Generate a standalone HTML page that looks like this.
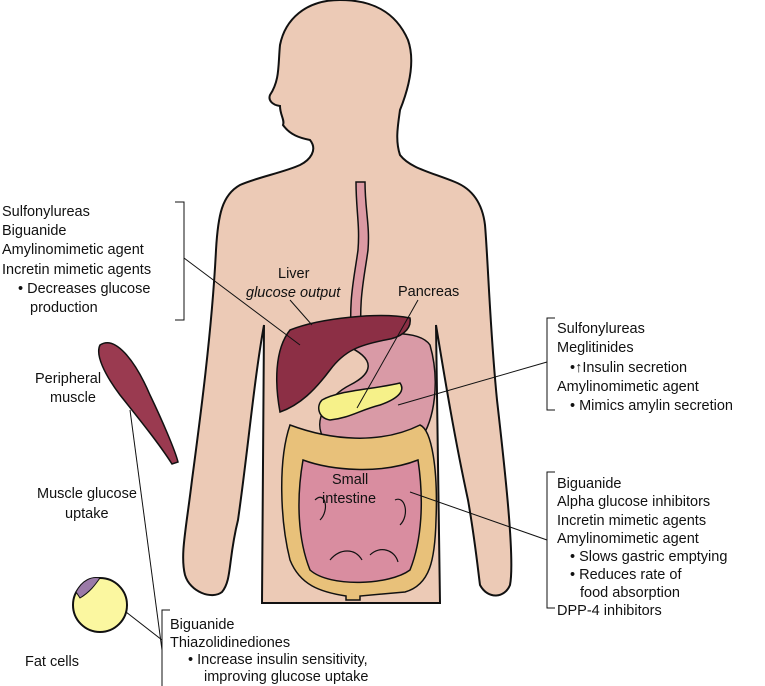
<!DOCTYPE html>
<html><head><meta charset="utf-8"><style>
body{margin:0;background:#fff;}
svg{display:block;font-family:"Liberation Sans",sans-serif;font-size:14.5px;fill:#111;}
</style></head><body>
<svg width="765" height="686" viewBox="0 0 765 686" xmlns="http://www.w3.org/2000/svg">
<g stroke="#111" stroke-width="2" fill="#eccab6">
<path d="M310,140 C318,150 310,160 300,165 C285,172 255,178 240,185 C222,195 218,215 216,250 C212,330 200,420 192,480 C186,530 180,555 185,575 C190,592 212,600 222,592 C232,580 228,560 238,520 C248,450 254,380 264,325 L262,603 L440,603 L436,325 C445,380 455,440 468,500 C475,540 478,570 480,585 C488,600 505,598 510,585 C515,560 505,470 497,400 C490,330 488,260 485,225 C482,200 470,188 455,182 C430,172 410,168 400,155 C395,140 398,125 400,110 C410,85 415,60 408,40 C395,10 370,0 340,0 C305,0 285,20 280,45 C278,65 280,80 270,95 C268,100 272,105 280,106 C280,115 285,120 283,125 C290,135 300,138 310,140 Z"/>
</g>
<path d="M356,182 C356,210 360,225 358,250 C354,280 348,300 352,345 L362,345 C358,300 364,280 368,250 C370,225 365,210 365,182 Z" fill="#dc9aa3" stroke="#111" stroke-width="1.5"/>
<path d="M345,345 C380,330 420,330 430,345 C440,380 435,420 420,440 C400,460 350,465 325,440 C310,420 330,395 350,385 C370,375 380,360 345,345 Z" fill="#d99aa6" stroke="#111" stroke-width="1.5"/>
<path d="M290,330 C320,318 380,312 410,318 C412,330 400,338 385,340 C360,345 345,350 330,370 C315,390 300,405 280,412 C275,385 274,350 290,330 Z" fill="#8c2f45" stroke="#111" stroke-width="1.5"/>
<path d="M290,425 C330,440 380,445 420,425 C432,430 438,470 436,520 C435,560 430,585 405,592 L360,596 L360,600 L346,600 L346,596 C320,592 300,585 290,560 C280,520 278,460 290,425 Z" fill="#e8c17a" stroke="#111" stroke-width="1.5"/>
<path d="M303,460 C330,470 380,475 418,460 C424,500 422,540 410,570 C390,585 330,588 310,570 C298,540 296,500 303,460 Z" fill="#d98da0" stroke="#111" stroke-width="1.5"/>
<g stroke="#111" stroke-width="1.2" fill="none">
<path d="M315,500 C325,490 330,510 320,520"/><path d="M395,500 C405,495 410,515 400,525"/>
<path d="M330,560 C340,548 355,548 362,560"/><path d="M370,555 C380,545 395,550 398,562"/>
</g>
<path d="M322,400 C340,390 370,390 400,383 C405,390 400,398 380,405 C360,410 350,418 330,420 C318,418 316,406 322,400 Z" fill="#f6f189" stroke="#111" stroke-width="1.5"/>
<path d="M100,345 C115,335 135,360 150,395 C162,420 175,450 178,462 L172,464 C160,445 140,420 120,395 C105,375 95,355 100,345 Z" fill="#9a3a50" stroke="#111" stroke-width="1.5"/>
<circle cx="100" cy="605" r="27" fill="#fbf7a0" stroke="#111" stroke-width="2"/>
<path d="M76,592 C82,580 92,576 100,578 C95,585 90,592 80,598 Z" fill="#9b7aa8" stroke="#111" stroke-width="1"/>
<g stroke="#111" stroke-width="1" fill="none">
<path d="M175,202 H184 V320 H175"/>
<path d="M184,258 L300,345"/>
<path d="M290,300 L312,325"/>
<path d="M555,318 H547 V410 H555"/>
<path d="M547,362 L398,405"/>
<path d="M418,300 L357,408"/>
<path d="M555,472 H547 V608 H555"/>
<path d="M547,540 L410,492"/>
<path d="M170,610 H162 V686"/>
<path d="M130,410 L162,650"/>
<path d="M126,612 L162,640"/>
</g>
<g>
<text x="2" y="216">Sulfonylureas</text>
<text x="2" y="235">Biguanide</text>
<text x="2" y="254">Amylinomimetic agent</text>
<text x="2" y="274">Incretin mimetic agents</text>
<text x="18" y="293">• Decreases glucose</text>
<text x="30" y="312">production</text>
<text x="278" y="278">Liver</text>
<text x="246" y="297" font-style="italic">glucose output</text>
<text x="398" y="296">Pancreas</text>
<text x="332" y="484">Small</text>
<text x="322" y="503">intestine</text>
<text x="557" y="333">Sulfonylureas</text>
<text x="557" y="352">Meglitinides</text>
<text x="570" y="372">•↑Insulin secretion</text>
<text x="557" y="391">Amylinomimetic agent</text>
<text x="570" y="410">• Mimics amylin secretion</text>
<text x="557" y="488">Biguanide</text>
<text x="557" y="506">Alpha glucose inhibitors</text>
<text x="557" y="525">Incretin mimetic agents</text>
<text x="557" y="543">Amylinomimetic agent</text>
<text x="570" y="561">• Slows gastric emptying</text>
<text x="570" y="579">• Reduces rate of</text>
<text x="580" y="597">food absorption</text>
<text x="557" y="615">DPP-4 inhibitors</text>
<text x="35" y="383">Peripheral</text>
<text x="50" y="402">muscle</text>
<text x="37" y="498">Muscle glucose</text>
<text x="65" y="518">uptake</text>
<text x="25" y="666">Fat cells</text>
<text x="170" y="629">Biguanide</text>
<text x="170" y="647">Thiazolidinediones</text>
<text x="188" y="664">• Increase insulin sensitivity,</text>
<text x="204" y="681">improving glucose uptake</text>
</g>
</svg>
</body></html>
